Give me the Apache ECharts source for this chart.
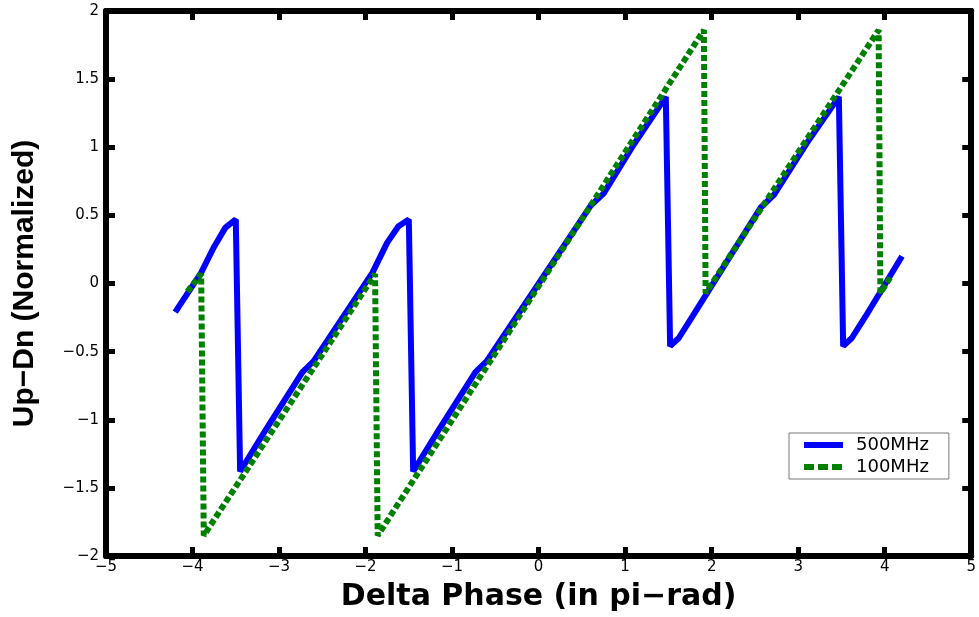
<!DOCTYPE html>
<html>
<head>
<meta charset="utf-8">
<script src="https://cdn.jsdelivr.net/npm/echarts@6/dist/echarts.min.js"></script>
<style>
  html, body { margin: 0; padding: 0; background: #fff; }
  #chart { width: 979px; height: 617px; }
</style>
</head>
<body>
<div id="chart"></div>
<script>
  // 500MHz curve (blue), [phase, value]
  var blue500 = [
    [-4.2, -0.21], [-3.9, 0.08], [-3.75, 0.27], [-3.62, 0.41], [-3.5, 0.47],
    [-3.45, -1.38], [-3.15, -1.07], [-2.73, -0.65], [-2.6, -0.57], [-1.92, 0.08],
    [-1.75, 0.3], [-1.62, 0.42], [-1.5, 0.47],
    [-1.45, -1.38], [-1.15, -1.07], [-0.73, -0.65], [-0.6, -0.57], [0.6, 0.57],
    [0.75, 0.66], [1.1, 1.02], [1.47, 1.37],
    [1.52, -0.46], [1.62, -0.4], [1.78, -0.24], [2.57, 0.56], [2.72, 0.65],
    [3.1, 1.03], [3.47, 1.37],
    [3.52, -0.46], [3.62, -0.4], [3.78, -0.24], [4.2, 0.2]
  ];
  // 100MHz curve (green dashed)
  var green100 = [
    [-4.06, -0.06], [-3.9, 0.07], [-3.87, -1.85], [-1.89, 0.07], [-1.86, -1.85],
    [1.91, 1.86], [1.93, -0.07], [3.93, 1.86], [3.95, -0.07], [4.07, 0.05]
  ];
  var xTicks = [-5, -4, -3, -2, -1, 0, 1, 2, 3, 4, 5];
  var yTicks = [-2, -1.5, -1, -0.5, 0, 0.5, 1, 1.5, 2];

  var font = '"Liberation Sans", Arial, Helvetica, sans-serif';
  var wide = '"DejaVu Sans", Verdana, sans-serif';
  function minus(v) { return String(v).replace('-', '\u2212'); }

  var axisLine = { show: true, onZero: false, lineStyle: { color: '#000', width: 6 } };
  var axisTick = { show: true, inside: true, length: 9, lineStyle: { color: '#000', width: 5 } };

  var myChart = echarts.init(document.getElementById('chart'));
  var option = {
    animation: false,
    backgroundColor: '#fff',
    grid: { left: 106, right: 7, top: 11, bottom: 60 },
    legend: {
      orient: 'vertical',
      left: 789, top: 433,
      itemWidth: 39, itemHeight: 14, itemGap: 2,
      padding: [2, 20, 2, 12],
      borderColor: '#777', borderWidth: 1,
      backgroundColor: '#fff',
      itemStyle: { opacity: 0 },
      lineStyle: { width: 6 },
      textStyle: { fontFamily: wide, fontSize: 18, lineHeight: 20, color: '#000', padding: [0, 0, 0, 8] },
      data: [
        { name: '500MHz' },
        { name: '100MHz', lineStyle: { width: 6, type: [10, 4] } }
      ]
    },
    xAxis: [{
      type: 'value', min: xTicks[0], max: xTicks[xTicks.length - 1], interval: 1,
      position: 'bottom',
      name: 'Delta Phase (in pi\u2212rad)', nameLocation: 'middle', nameGap: 26,
      nameTextStyle: { fontFamily: wide, fontSize: 30, fontWeight: 'bold', color: '#000' },
      axisLine: axisLine, axisTick: axisTick, splitLine: { show: false },
      axisLabel: { fontFamily: wide, fontSize: 15, color: '#000', margin: 4, formatter: minus }
    }, {
      type: 'value', min: xTicks[0], max: xTicks[xTicks.length - 1], interval: 1,
      position: 'top',
      axisLine: axisLine, axisTick: axisTick, splitLine: { show: false },
      axisLabel: { show: false }
    }],
    yAxis: [{
      type: 'value', min: yTicks[0], max: yTicks[yTicks.length - 1], interval: 0.5,
      position: 'left',
      name: 'Up\u2212Dn (Normalized)', nameLocation: 'middle', nameGap: 66,
      nameTextStyle: { fontFamily: font, fontSize: 30, fontWeight: 'bold', color: '#000' },
      axisLine: axisLine, axisTick: axisTick, splitLine: { show: false },
      axisLabel: { fontFamily: wide, fontSize: 15, color: '#000', margin: 7, formatter: minus }
    }, {
      type: 'value', min: yTicks[0], max: yTicks[yTicks.length - 1], interval: 0.5,
      position: 'right',
      axisLine: axisLine, axisTick: axisTick, splitLine: { show: false },
      axisLabel: { show: false }
    }],
    series: [{
      name: '500MHz', type: 'line', data: blue500,
      symbol: 'none', z: 2,
      lineStyle: { color: '#0000ff', width: 6 },
      itemStyle: { color: '#0000ff' }
    }, {
      name: '100MHz', type: 'line', data: green100,
      symbol: 'none', z: 3,
      lineStyle: { color: '#008000', width: 6, type: [6, 3], cap: 'butt' },
      itemStyle: { color: '#008000' }
    }]
  };
  myChart.setOption(option);
</script>
</body>
</html>
